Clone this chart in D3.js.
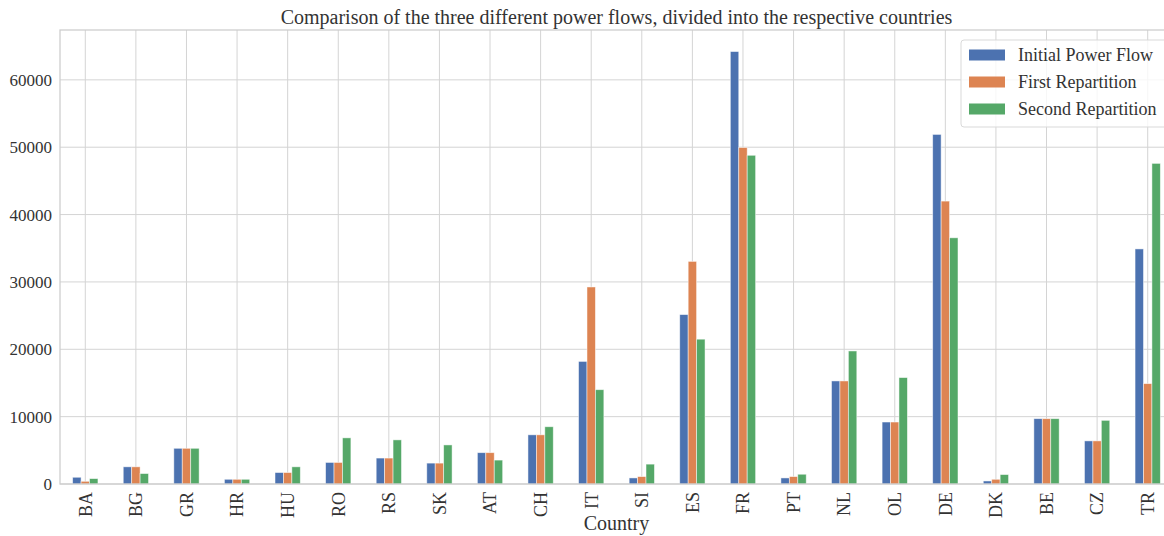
<!DOCTYPE html>
<html>
<head>
<meta charset="utf-8">
<script src="https://cdn.jsdelivr.net/npm/d3@7"></script>
<style>
	body { margin: 0; background: #fff; }
	svg { display: block; font-family: "Liberation Serif", "DejaVu Serif", serif; }
	.grid line { stroke: #d4d4d4; stroke-width: 1; }
	.tick text { fill: #333; }
</style>
</head>
<body>
<script>
var countries = ["BA","BG","GR","HR","HU","RO","RS","SK","AT","CH","IT","SI","ES","FR","PT","NL","OL","DE","DK","BE","CZ","TR"];
var seriesNames = ["Initial Power Flow","First Repartition","Second Repartition"];
var initialFlow = [1000, 2550, 5300, 700, 1700, 3200, 3850, 3100, 4650, 7300, 18200, 900, 25150, 64200, 900, 15300, 9200, 51900, 450, 9700, 6400, 34900];
var firstRep = [400, 2550, 5300, 700, 1700, 3200, 3850, 3100, 4650, 7300, 29250, 1100, 33050, 49950, 1100, 15300, 9200, 42000, 700, 9700, 6400, 14900];
var secondRep = [800, 1550, 5300, 700, 2550, 6850, 6550, 5800, 3550, 8500, 14000, 2950, 21500, 48800, 1450, 19750, 15800, 36550, 1400, 9700, 9450, 47600];
var yTicks = [0, 10000, 20000, 30000, 40000, 50000, 60000];
var colors = ["#4c72b0", "#dd8452", "#55a868"];

var W = 1164, H = 536;
var margin = {top: 30, left: 60, right: 1173, bottom: 484};
var yMax = 67400;

var svg = d3.select("body").append("svg")
	.attr("width", W)
	.attr("height", H);

var x = d3.scaleBand().domain(countries).range([margin.left, margin.right]);
var y = d3.scaleLinear().domain([0, yMax]).range([margin.bottom, margin.top]);
var inner = d3.scaleBand().domain(seriesNames).range([0, x.bandwidth() * 0.5]);

var series = [initialFlow, firstRep, secondRep];
var rows = [];
countries.forEach(function(c, i){
	series.forEach(function(s, j){
		rows.push({country: c, name: seriesNames[j], value: s[i], k: j});
	});
});

// grid
var grid = svg.append("g").attr("class", "grid");
grid.selectAll("line.h")
	.data(yTicks)
	.enter()
	.append("line")
	.attr("class", "h")
	.attr("x1", margin.left)
	.attr("x2", margin.right)
	.attr("y1", function(d){ return y(d); })
	.attr("y2", function(d){ return y(d); });
grid.selectAll("line.v")
	.data(countries)
	.enter()
	.append("line")
	.attr("class", "v")
	.attr("x1", function(d){ return x(d) + x.bandwidth() / 2; })
	.attr("x2", function(d){ return x(d) + x.bandwidth() / 2; })
	.attr("y1", margin.top)
	.attr("y2", margin.bottom);

// bars
svg.append("g")
	.selectAll("rect")
	.data(rows)
	.enter()
	.append("rect")
	.attr("x", function(d){ return x(d.country) + x.bandwidth() * 0.25 + inner(d.name); })
	.attr("width", inner.bandwidth())
	.attr("y", function(d){ return y(d.value); })
	.attr("height", function(d){ return y(0) - y(d.value); })
	.attr("fill", function(d){ return colors[d.k]; })
	.attr("stroke", "#fff")
	.attr("stroke-opacity", 0.6)
	.attr("stroke-width", 0.8);

// frame
svg.append("rect")
	.attr("x", margin.left)
	.attr("y", margin.top)
	.attr("width", margin.right - margin.left)
	.attr("height", margin.bottom - margin.top)
	.attr("fill", "none")
	.attr("stroke", "#cccccc")
	.attr("stroke-width", 1.25);

// axes
var yAxis = svg.append("g")
	.attr("transform", "translate(" + margin.left + ",0)")
	.call(d3.axisLeft(y).tickValues(yTicks).tickSize(0).tickPadding(8).tickFormat(d3.format("d")));
yAxis.select(".domain").remove();
yAxis.selectAll("text").attr("font-size", 17).attr("font-family", "Liberation Serif");

var xAxis = svg.append("g")
	.attr("transform", "translate(0," + margin.bottom + ")")
	.call(d3.axisBottom(x).tickSize(0).tickPadding(0));
xAxis.select(".domain").remove();
xAxis.selectAll("text")
	.attr("font-size", 18)
	.attr("font-family", "Liberation Serif")
	.attr("text-anchor", "end")
	.attr("dy", "0.35em")
	.attr("transform", "translate(0,8) rotate(-90)")
	.attr("x", 0)
	.attr("y", 0);

svg.append("text")
	.attr("x", (margin.left + margin.right) / 2)
	.attr("y", 530)
	.attr("text-anchor", "middle")
	.attr("font-size", 20)
	.attr("fill", "#333")
	.text("Country");

svg.append("text")
	.attr("x", (margin.left + margin.right) / 2)
	.attr("y", 24)
	.attr("text-anchor", "middle")
	.attr("font-size", 20)
	.attr("fill", "#333")
	.text("Comparison of the three different power flows, divided into the respective countries");

// legend
var legend = svg.append("g").attr("transform", "translate(961,40)");
legend.append("rect")
	.attr("width", 215)
	.attr("height", 87)
	.attr("rx", 3)
	.attr("fill", "#fff")
	.attr("fill-opacity", 0.8)
	.attr("stroke", "#d9d9d9");
var items = legend.selectAll("g.item")
	.data(seriesNames)
	.enter()
	.append("g")
	.attr("class", "item")
	.attr("transform", function(d, i){ return "translate(0," + (15 + i * 27) + ")"; });
items.append("rect")
	.attr("x", 8)
	.attr("y", -5.5)
	.attr("width", 36)
	.attr("height", 11)
	.attr("fill", function(d, i){ return colors[i]; });
items.append("text")
	.attr("x", 57)
	.attr("dy", "0.35em")
	.attr("font-size", 18)
	.attr("fill", "#333")
	.text(function(d){ return d; });
</script>
</body>
</html>
